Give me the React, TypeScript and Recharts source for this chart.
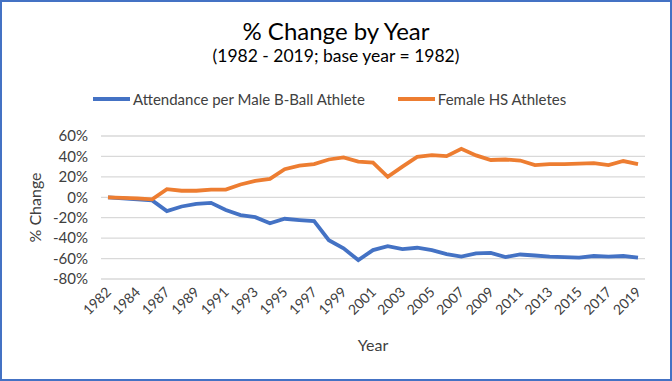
import { CartesianGrid, Legend, Line, LineChart, XAxis, YAxis } from "recharts";

const years = [
  "1982", "1983", "1984", "1985", "1987", "1988", "1989", "1990", "1991", "1992",
  "1993", "1994", "1995", "1996", "1997", "1998", "1999", "2000", "2001", "2002",
  "2003", "2004", "2005", "2006", "2007", "2008", "2009", "2010", "2011", "2012",
  "2013", "2014", "2015", "2016", "2017", "2018", "2019"
];

const attendancePerMale = [
  0, -1, -2, -3, -13.5, -9, -6.5, -5.5, -12.5, -17.5,
  -19.5, -25.5, -21, -22.3, -23.3, -42, -50, -61.5, -51.7, -47.8,
  -50.7, -49.4, -51.7, -55.6, -58, -55, -54.5, -58.5, -56, -57,
  -58, -58.5, -59, -57.5, -58, -57.5, -59
];

const femaleHsAthletes = [
  0, -0.5, -1, -2, 8, 6.4, 6.4, 7.5, 7.5, 12.5,
  16, 18, 27.5, 31, 32.5, 37, 39, 35, 34, 20,
  30, 39.5, 41.3, 40.3, 47.5, 41, 36.5, 37, 36, 31.5,
  32.5, 32.5, 33, 33.5, 31.5, 35.5, 32.5
];

const yTicks = [-80, -60, -40, -20, 0, 20, 40, 60];

const data = years.map((year, i) => ({
  year,
  attendance: attendancePerMale[i],
  female: femaleHsAthletes[i]
}));

const FONT = "Lato, 'Open Sans', sans-serif";
const TEXT = "#404040";

function LegendContent({ payload }: any) {
  return (
    <div style={{ display: "flex", alignItems: "center", fontFamily: FONT, fontSize: 15, color: TEXT }}>
      {(payload || []).map((p: any, i: number) => (
        <div key={p.value} style={{ display: "flex", alignItems: "center", marginRight: i === 0 ? 33 : 0 }}>
          <div style={{ width: 37, height: 4, background: p.color, marginRight: 3 }} />
          <span>{p.value}</span>
        </div>
      ))}
    </div>
  );
}

const XTick = ({ x, y, payload }: any) => (
  <text
    x={x}
    y={y}
    transform={`rotate(-45, ${x}, ${y})`}
    textAnchor="end"
    dominantBaseline="central"
    fontFamily={FONT}
    fontSize={14}
    fill={TEXT}
  >
    {payload.value}
  </text>
);

export default function App() {
  return (
    <div
      style={{
        position: "absolute",
        left: 0,
        top: 0,
        width: 672,
        height: 381,
        background: "#fff",
        boxSizing: "border-box",
        border: "2px solid #4472C4"
      }}
    >
      <div
        style={{
          position: "absolute",
          top: 14,
          left: 0,
          width: 668,
          textAlign: "center",
          fontFamily: FONT,
          fontSize: 24,
          color: "#000"
        }}
      >
        % Change by Year
      </div>
      <div
        style={{
          position: "absolute",
          top: 43,
          left: 0,
          width: 668,
          textAlign: "center",
          fontFamily: FONT,
          fontSize: 17.5,
          color: "#000"
        }}
      >
        (1982 - 2019; base year = 1982)
      </div>
      <div style={{ position: "absolute", left: -2, top: -2 }}>
        <LineChart width={672} height={381} data={data} margin={{ top: 136, right: 27, bottom: 0, left: 41 }}>
          <CartesianGrid vertical={false} stroke="#D9D9D9" strokeWidth={1.3} />
          <XAxis
            dataKey="year"
            interval={1}
            tickLine={false}
            axisLine={false}
            tick={<XTick />}
            tickMargin={4}
            padding={{ left: 7, right: 7 }}
            height={102}
            label={{ value: "Year", position: "insideBottom", offset: 30, fontFamily: FONT, fontSize: 16, fill: TEXT }}
          />
          <YAxis
            domain={[-80, 60]}
            ticks={yTicks}
            interval={0}
            tickFormatter={(v) => `${v}%`}
            tickLine={false}
            axisLine={false}
            tickSize={0}
            tickMargin={13}
            width={60}
            tick={{ fontFamily: FONT, fontSize: 15, fill: TEXT }}
            label={{ value: "% Change", angle: -90, position: "insideLeft", offset: -6, fontFamily: FONT, fontSize: 16, fill: TEXT, style: { textAnchor: "middle" } }}
          />
          <Legend
            verticalAlign="middle"
            align="center"
            content={<LegendContent />}
            wrapperStyle={{ position: "absolute", top: 90, left: 93, width: "auto" }}
          />
          <Line
            type="linear"
            dataKey="attendance"
            name="Attendance per Male B-Ball Athlete"
            stroke="#4472C4"
            strokeWidth={3.8}
            dot={false}
            isAnimationActive={false}
          />
          <Line
            type="linear"
            dataKey="female"
            name="Female HS Athletes"
            stroke="#ED7D31"
            strokeWidth={3.8}
            dot={false}
            isAnimationActive={false}
          />
        </LineChart>
      </div>
    </div>
  );
}
